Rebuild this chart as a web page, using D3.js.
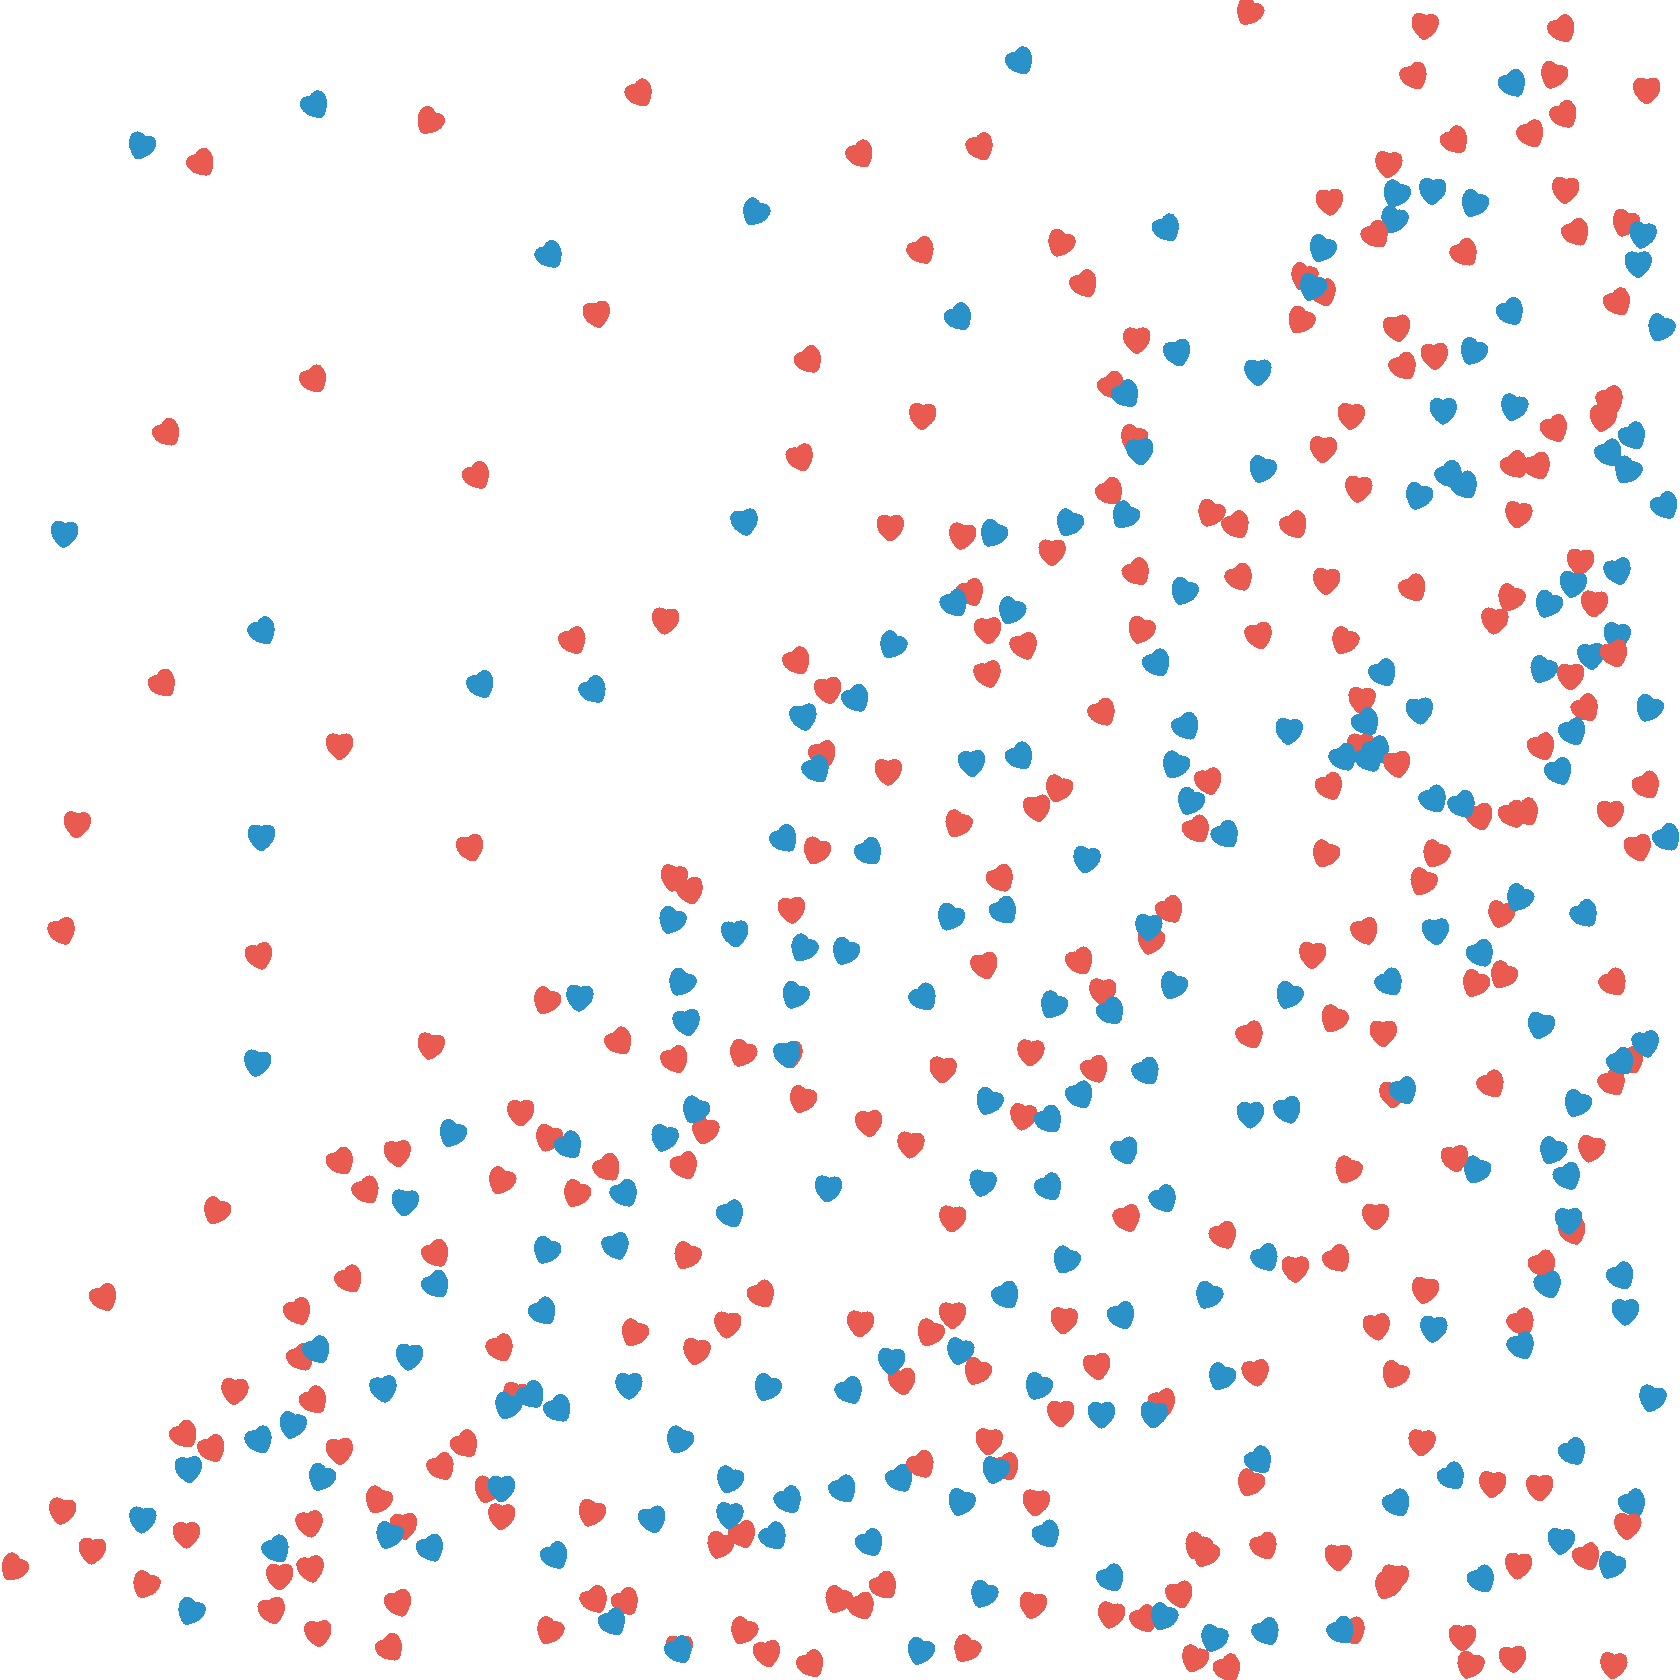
<!DOCTYPE html>
<html>
<head>
<meta charset="utf-8">
<style>html,body{margin:0;padding:0;background:#fff}svg{display:block}</style>
<script src="https://cdn.jsdelivr.net/npm/d3@7/dist/d3.min.js"></script>
</head>
<body>
<svg id="chart" width="1680" height="1680"></svg>
<script>
// each row: x value, y value, tilt in degrees
const redBack = [
[401,113,35],[188,152,-35],[293,354,-30],[156,404,-35],[445,444,-30],
[597,87,-30],[803,144,-30],[915,137,-25],[860,234,-30],[990,227,25],[1012,265,-30],[557,293,-10],[755,336,-35],[861,388,5],[747,427,-20],[1038,360,-35],[831,492,0],[898,500,10],[982,515,0],[1036,459,-35],
[1166,11,30],[1330,24,5],[1458,27,-30],[1320,71,-25],[1450,70,20],[1537,84,0],[1460,107,-30],[1429,125,-25],[1358,131,-35],[1296,153,5],[1241,188,-5],[1461,177,5],[1471,217,-30],[1367,236,-35],[1217,258,20],[1235,273,-20],[1214,299,30],[1304,306,-10],[1339,332,-5],[1310,342,-30],[1061,317,0],[1510,282,-30],[1517,208,20],[1503,373,-25],[1496,390,10],[1451,400,-25],[1261,388,5],[1235,419,5],[1268,456,5],[1414,434,-35],[1435,435,-25],[1417,480,10],[1130,479,25],[1154,490,-30],[1208,490,-30],[1058,409,20],
[152,638,-35],[317,696,0],[72,769,5],[439,791,-15],[58,869,-20],[242,892,-15],[510,934,25],[402,976,10],[486,1038,0],
[535,598,-25],[621,579,5],[744,617,-30],[773,644,-10],[906,553,-25],[922,588,-5],[956,603,-20],[922,629,-15],[768,704,-20],[829,720,0],[1029,665,-30],[988,736,20],[968,754,-10],[894,769,25],[762,794,20],[934,820,-30],[629,819,10],[644,831,-15],[739,849,-5],[1008,897,-25],[919,901,-15],[1029,925,5],[578,972,-35],[630,989,-25],[693,983,25],[737,984,-10],[962,982,5],[880,998,5],[1022,998,-25],[749,1026,20],[955,1042,10],
[1061,534,-35],[1157,539,-30],[1238,542,5],[1319,549,-30],[1410,558,25],[1395,579,5],[1488,563,5],[1475,524,5],[1065,588,20],[1175,593,-15],[1255,598,25],[1480,661,-35],[1271,653,5],[1439,697,-25],[1270,696,0],[1128,729,-15],[1241,734,-25],[1537,733,-30],[1503,759,0],[1381,762,-15],[1412,760,-25],[1424,758,-30],[1117,774,-30],[1237,797,25],[1340,797,25],[1529,791,-15],[1328,823,25],[1401,853,15],[1092,849,-30],[1074,878,15],[1274,869,-20],[1225,891,5],[1377,918,25],[1403,910,30],[1506,917,-35],[1245,951,25],[1291,964,0],[1167,966,-25],[1392,1012,-30],[1505,1010,-30],[1522,989,-20],[1300,1021,0],
[318,1084,-30],[371,1076,-5],[342,1111,-30],[202,1130,25],[468,1102,25],[512,1062,20],[407,1170,-30],[326,1194,-30],[97,1211,-25],[278,1224,-25],[467,1258,-25],[281,1267,-30],[219,1298,5],[293,1307,-35],[434,1348,-35],[172,1339,-35],[198,1352,-25],[317,1354,-5],[412,1369,-30],[353,1400,25],[455,1390,15],[468,1415,5],[482,1302,10],[58,1410,10],[377,1424,-5],[289,1422,-10],[174,1432,0],[86,1447,5],[13,1463,35],[136,1479,25],[261,1471,0],[290,1464,-10],[254,1503,-15],[297,1524,-5],[372,1496,-20],[364,1538,-35],[513,1522,25],
[658,1055,15],[567,1090,-35],[639,1088,-25],[538,1114,25],[811,1048,-5],[850,1068,5],[889,1137,5],[641,1172,25],[711,1208,-30],[993,1232,5],[803,1235,5],[679,1236,5],[889,1227,0],[868,1244,25],[592,1244,25],[650,1261,10],[842,1289,-10],[1024,1275,-10],[990,1319,0],[923,1345,5],[939,1369,-25],[967,1402,5],[552,1412,20],[693,1432,-20],[672,1442,20],[825,1480,-35],[782,1493,25],[804,1499,-25],[964,1498,10],[555,1493,-30],[584,1495,-30],[694,1522,25],[634,1538,0],[716,1543,-10],[757,1553,-30],[902,1539,30],
[1052,1137,-20],[1142,1153,-25],[1209,1184,0],[1248,1175,-35],[1258,1092,25],[1284,1135,0],[1485,1072,15],[1468,1149,-20],[1440,1180,-30],[1330,1204,10],[1285,1238,-10],[1420,1234,-30],[1172,1281,-10],[1302,1283,25],[1085,1309,-20],[1167,1384,25],[1327,1346,5],[1393,1385,5],[1437,1388,0],[1118,1443,25],[1125,1450,25],[1180,1443,-25],[1249,1453,0],[1417,1461,5],[1481,1453,-25],[1302,1472,5],[1295,1480,25],[1101,1488,-15],[1068,1511,-30],[1037,1507,10],[1115,1548,20],[1146,1557,-30],[1262,1522,-20],[1365,1528,0],[1372,1554,20],[1412,1548,-5],[1506,1554,5]
];
const blueHearts = [
[132,136,20],[294,98,-30],[513,238,-35],[60,498,5],
[952,57,-30],[705,198,30],[895,296,-35],[695,487,-10],[927,498,30],[998,488,25],
[1412,78,-30],[1089,213,-30],[1303,181,25],[1337,178,5],[1376,190,25],[1301,205,20],[1234,232,25],[1225,268,20],[1533,219,10],[1529,246,0],[1410,291,-30],[1550,306,25],[1099,329,-15],[1375,328,25],[1174,347,0],[1051,368,-35],[1347,383,0],[1413,380,15],[1064,421,-5],[1178,438,20],[1524,407,-30],[1502,423,-30],[1519,439,30],[1353,443,-35],[1367,453,-30],[1324,463,20],[1554,472,-30],[1050,481,35],
[245,589,-30],[449,639,-25],[244,781,0],[240,992,10],
[554,644,-35],[891,563,-30],[944,570,25],[833,602,30],[799,652,-30],[750,669,-10],[762,718,-30],[907,712,-5],[952,706,-35],[732,783,-35],[811,795,-35],[1014,802,10],[937,850,-35],[887,856,25],[627,859,25],[686,871,-5],[750,885,30],[789,888,25],[636,917,30],[742,929,25],[862,931,-35],[541,931,5],[983,938,30],[641,954,-10],[1037,944,-35],[735,984,-10],[649,1036,25],[923,1028,25],[1008,1022,-25],[979,1045,-35],
[1105,552,25],[1468,545,10],[1510,533,-15],[1445,564,25],[1080,619,-30],[1509,593,10],[1291,628,-30],[1485,612,-5],[1440,625,25],[1325,663,-5],[1539,661,25],[1275,674,-35],[1203,682,5],[1107,678,-30],[1468,683,-25],[1097,714,25],[1254,707,-30],[1285,700,-30],[1278,708,-30],[1455,720,-25],[1111,748,25],[1144,779,-35],[1338,746,-30],[1365,751,-30],[1556,782,-35],[1479,853,-35],[1418,838,30],[1072,865,5],[1340,869,-5],[1095,920,25],[1382,890,-30],[1297,917,-35],[1203,929,25],[1438,957,15],[1536,974,-10],[1513,991,-35],[1310,1018,-25],[1070,1000,-30],[1472,1030,25],[1167,1040,0],[1202,1036,-20],
[422,1058,25],[378,1122,5],[510,1167,25],[407,1199,-35],[507,1224,-35],[296,1260,-30],[382,1266,5],[358,1296,-10],[496,1302,-35],[474,1312,20],[521,1315,-35],[242,1344,-25],[273,1330,15],[176,1371,-5],[300,1379,25],[468,1389,0],[133,1418,5],[363,1433,20],[402,1445,-25],[258,1446,-30],[178,1504,25],[518,1452,-30],
[531,1069,-35],[620,1062,15],[583,1114,-30],[682,1133,-25],[773,1109,5],[917,1104,10],[979,1108,-30],[575,1163,-20],[995,1176,25],[939,1209,-30],[896,1261,15],[832,1270,5],[587,1293,0],[716,1295,25],[793,1298,-30],[969,1294,25],[1028,1320,0],[634,1344,25],[929,1372,15],[840,1380,-30],[681,1381,20],[736,1400,-30],[787,1390,-30],[897,1402,20],[609,1418,-15],[681,1414,5],[722,1434,-35],[812,1440,-30],[977,1432,-30],[918,1488,25],[572,1514,-30],[634,1540,-30],[859,1541,20],
[1050,1074,-20],[1086,1119,-30],[1181,1174,-30],[1128,1209,25],[1047,1228,-25],[1378,1092,25],[1449,1074,25],[1463,1098,-25],[1464,1139,0],[1445,1199,-20],[1513,1191,-30],[1517,1224,0],[1338,1240,5],[1420,1256,-25],[1140,1285,25],[1542,1305,15],[1077,1320,5],[1175,1363,-35],[1468,1355,-30],[1355,1378,-35],[1304,1403,-30],[1524,1403,-30],[1457,1438,5],[1504,1461,25],[1383,1474,-30],[1037,1473,-30],[1086,1509,25],[1133,1529,20],[1182,1523,-30],[1252,1522,-35]
];
const redFront = [
[1284,219,-35],[1304,713,-10],[1466,631,0],[1507,610,-20],[912,1280,25],[1358,1081,-10],[860,1367,-30],[1519,1424,5]
];
const seriesColors = {red:"#E95B50", blue:"#2B91C9"};

const W = 1680, H = 1680;
const x = d3.scaleLinear().domain([0,1568]).range([0,W]);
const y = d3.scaleLinear().domain([0,1568]).range([0,H]);

function heart(){
  const p = d3.path();
  p.moveTo(0,14.3);
  p.bezierCurveTo(-3,14.3,-5,11.8,-8,8.9);
  p.bezierCurveTo(-11.5,5.4,-13.7,1.5,-13.7,-4);
  p.bezierCurveTo(-13.7,-9.5,-10.3,-12.3,-6.7,-12.3);
  p.bezierCurveTo(-4,-12.3,-1.5,-11.6,0,-10.5);
  p.bezierCurveTo(1.5,-11.6,4,-12.3,6.7,-12.3);
  p.bezierCurveTo(10.3,-12.3,13.7,-9.5,13.7,-4);
  p.bezierCurveTo(13.7,1.5,11.5,5.4,8,8.9);
  p.bezierCurveTo(5,11.8,3,14.3,0,14.3);
  p.closePath();
  return p.toString();
}
const heartPath = heart();
const svg = d3.select("#chart");
svg.append("rect").attr("width",W).attr("height",H).attr("fill","#fff");
function draw(rows,color,name){
  svg.append("g").attr("class",name).selectAll("path").data(rows).join("path")
    .attr("d",heartPath)
    .attr("fill",color)
    .attr("shape-rendering","crispEdges")
    .attr("transform",d=>`translate(${x(d[0])},${y(d[1])}) rotate(${d[2]})`);
}
draw(redBack,seriesColors.red,"red-back");
draw(blueHearts,seriesColors.blue,"blue");
draw(redFront,seriesColors.red,"red-front");
</script>
</body>
</html>
